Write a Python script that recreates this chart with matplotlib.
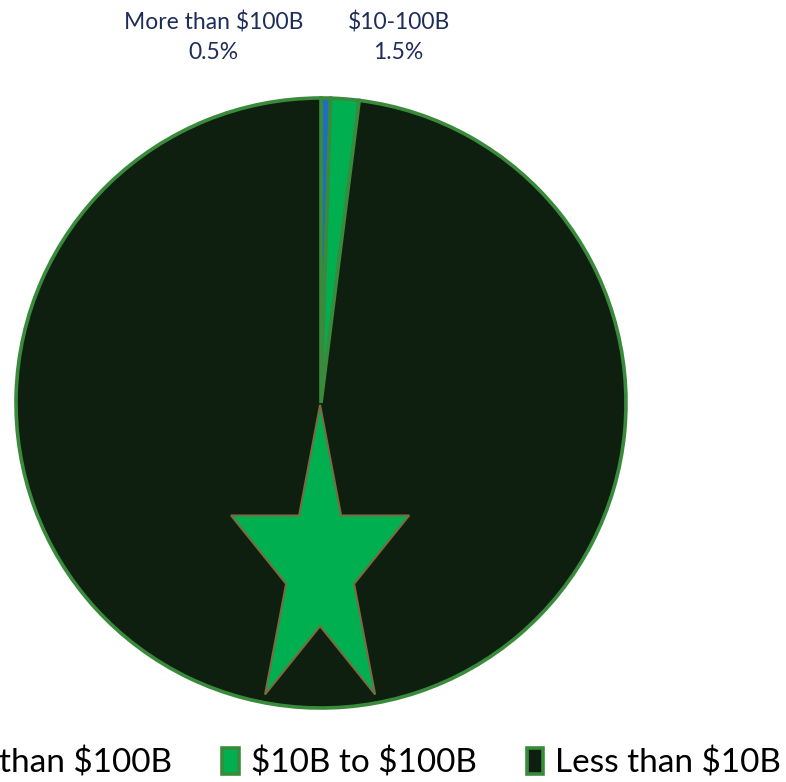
import numpy as np
import matplotlib
matplotlib.use("Agg")
import matplotlib.pyplot as plt
from matplotlib.patches import Polygon

# market-cap buckets
LEGEND_NAMES = ["More than $100B", "$10B to $100B", "Less than $10B"]
SHORT_NAMES = ["More than $100B", "$10-100B"]
SHARES = [0.5, 1.5, 98.0]
COLORS = ["#1f6fc0", "#00b050", "#0e1f10"]
EDGE = "#3a8a3c"
LABEL_COLOR = "#1f2d5a"

plt.rcParams["font.family"] = ["Lato", "DejaVu Sans"]
plt.rcParams["text.parse_math"] = False

W, H = 786, 782
fig = plt.figure(figsize=(W / 100, H / 100), dpi=100)

# pie centre / radius in pixels
cx, cy, r = 321, 403, 305
ax = fig.add_axes([(cx - r) / W, (H - cy - r) / H, 2 * r / W, 2 * r / H])

wedges, _ = ax.pie(
    SHARES, colors=COLORS, startangle=90, counterclock=False, radius=1,
    wedgeprops=dict(edgecolor=EDGE, linewidth=2.6),
)
ax.set_xlim(-1, 1)
ax.set_ylim(-1, 1)
ax.set_aspect("equal")
ax.axis("off")

# data labels above the pie
label_pos = [(-0.352, 1.2), (0.254, 1.2)]
for (x, y), name, val in zip(label_pos, SHORT_NAMES, SHARES[:2]):
    ax.text(x, y, f"{name}\n{val:.1f}%", ha="center", va="center",
            fontsize=16.5, color=LABEL_COLOR, linespacing=1.5, clip_on=False)

# green star on the big slice (regular star, stretched vertically)
sc_x, sc_y, R, sy = -0.003, -0.531, 0.307, 1.71
ang = np.pi / 2 - np.arange(10) * np.pi / 5
rad = np.where(np.arange(10) % 2 == 0, R, R * 0.382)
pts = np.column_stack([sc_x + rad * np.cos(ang), sc_y + sy * rad * np.sin(ang)])
ax.add_patch(Polygon(pts, closed=True, facecolor="#00b050",
                     edgecolor="#7a6a40", linewidth=1.5, zorder=5))

fig.legend(wedges, LEGEND_NAMES, loc="center right", bbox_to_anchor=(0.994, 0.024),
           ncol=3, frameon=False, fontsize=24, handlelength=0.5,
           handleheight=0.8, handletextpad=0.36, columnspacing=1.5,
           borderpad=0, borderaxespad=0)

fig.savefig("out.png", dpi=100)
